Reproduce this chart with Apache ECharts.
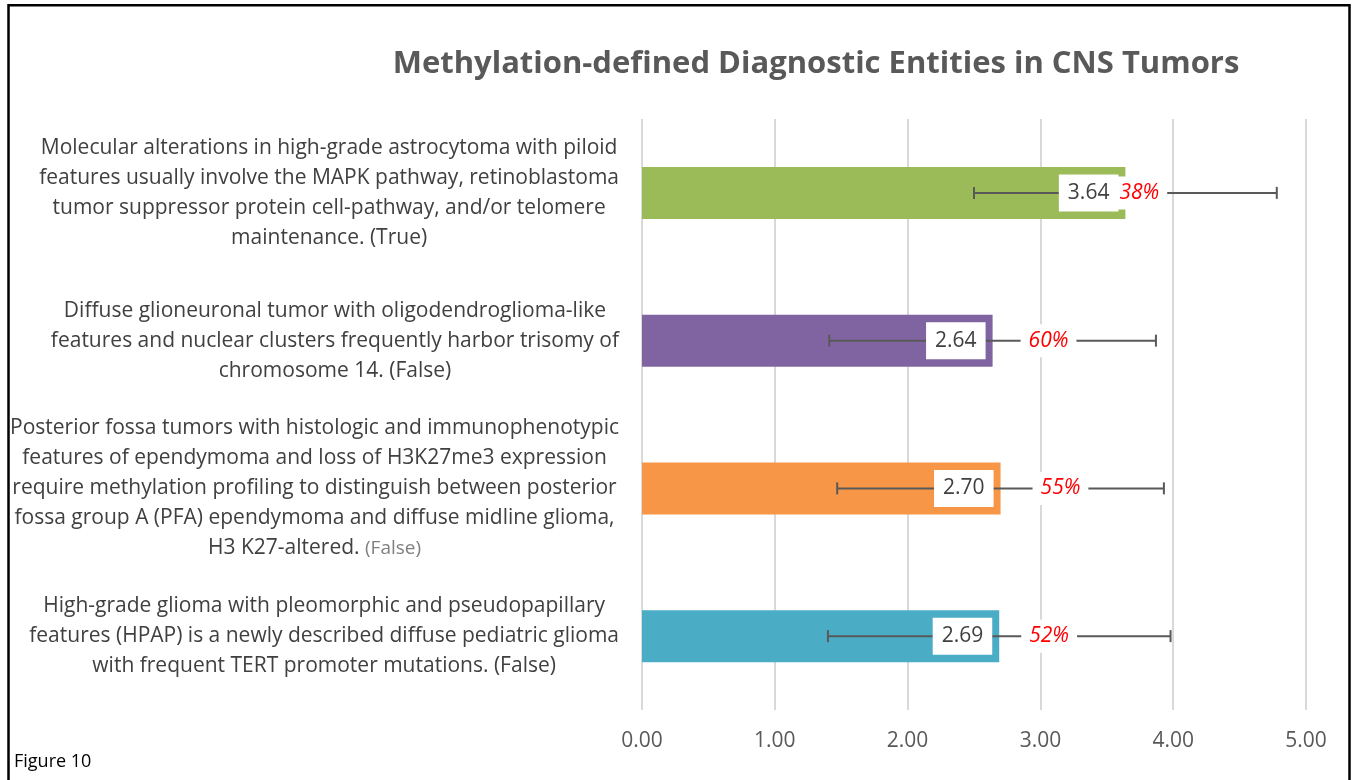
<!DOCTYPE html>
<html>
<head>
<meta charset="utf-8">
<script src="https://cdn.jsdelivr.net/npm/echarts@6/dist/echarts.min.js"></script>
<style>
  html, body { margin: 0; padding: 0; background: #fff; }
  #chart { width: 1353px; height: 780px; }
</style>
</head>
<body>
<div id="chart"></div>
<script>
// statements shown on the y axis (top to bottom)
const categories = [
  'Molecular alterations in high-grade astrocytoma with piloid\nfeatures usually involve the MAPK pathway, retinoblastoma\ntumor suppressor protein cell-pathway, and/or telomere\nmaintenance. (True)',
  'Diffuse glioneuronal tumor with oligodendroglioma-like\nfeatures and nuclear clusters frequently harbor trisomy of\nchromosome 14. (False)',
  'Posterior fossa tumors with histologic and immunophenotypic\nfeatures of ependymoma and loss of H3K27me3 expression\nrequire methylation profiling to distinguish between posterior\nfossa group A (PFA) ependymoma and diffuse midline glioma,\nH3 K27-altered. (False)',
  'High-grade glioma with pleomorphic and pseudopapillary\nfeatures (HPAP) is a newly described diffuse pediatric glioma\nwith frequent TERT promoter mutations. (False)'
];
const meanScores = [3.64, 2.64, 2.70, 2.69];
const sdScores = [1.14, 1.23, 1.23, 1.29];
const pctLabels = ['38%', '60%', '55%', '52%'];
const barColors = ['#9bbb59', '#8064a2', '#f79646', '#4bacc6'];
const xTickMin = 0;
const xTickMax = 5;
const xTickStep = 1;

// label layout tweaks (px from bar end)
const pctShift = [-14, 28, 32, 22];

const chart = echarts.init(document.getElementById('chart'));
const FONT = '"Open Sans", "Noto Sans", sans-serif';

chart.setOption({
  animation: false,
  title: {
    text: 'Methylation-defined Diagnostic Entities in CNS Tumors',
    left: 811,
    top: 44,
    textAlign: 'center',
    textStyle: { fontFamily: FONT, fontSize: 31, fontWeight: 'bold', color: '#595959' }
  },
  grid: { left: 642, right: 47, top: 119, bottom: 70 },
  xAxis: {
    type: 'value',
    min: xTickMin,
    max: xTickMax,
    interval: xTickStep,
    axisLine: { show: false },
    axisTick: { show: false },
    splitLine: { lineStyle: { color: '#d9d9d9', width: 2 } },
    axisLabel: {
      margin: 21,
      fontFamily: FONT,
      fontSize: 21,
      color: '#595959',
      formatter: v => v.toFixed(2)
    }
  },
  yAxis: {
    type: 'category',
    inverse: true,
    data: categories,
    axisLine: { show: false },
    axisTick: { show: false },
    axisLabel: {
      margin: 23,
      formatter: (val, idx) => val.split('\n').map(line => {
        if (idx === 2 && line.endsWith('(False)')) {
          return '{c|' + line.replace(' (False)', ' ') + '}{f|(False)}';
        }
        return '{c|' + line + '}';
      }).join('\n'),
      rich: {
        c: { fontFamily: FONT, fontSize: 21, lineHeight: 30, color: '#404040', align: 'center' },
        f: { fontFamily: FONT, fontSize: 19, lineHeight: 30, color: '#7f7f7f', align: 'center' }
      }
    }
  },
  series: [
    {
      type: 'bar',
      data: meanScores.map((v, i) => ({ value: v, itemStyle: { color: barColors[i] } })),
      barWidth: 52,
      silent: true
    },
    {
      type: 'custom',
      z: 5,
      silent: true,
      data: meanScores.map((v, i) => [v, i, v - sdScores[i], v + sdScores[i]]),
      encode: { x: [0, 2, 3], y: 1 },
      renderItem: (params, api) => {
        const idx = api.value(1);
        const end = api.coord([api.value(0), idx]);
        const lo = api.coord([api.value(2), idx]);
        const hi = api.coord([api.value(3), idx]);
        const y = end[1];
        const ls = { stroke: '#595959', lineWidth: 2 };
        return {
          type: 'group',
          children: [
            { type: 'line', shape: { x1: lo[0], y1: y, x2: hi[0], y2: y }, style: ls },
            { type: 'line', shape: { x1: lo[0], y1: y - 6, x2: lo[0], y2: y + 6 }, style: ls },
            { type: 'line', shape: { x1: hi[0], y1: y - 6, x2: hi[0], y2: y + 6 }, style: ls },
            {
              type: 'text',
              style: {
                text: api.value(0).toFixed(2),
                x: end[0] - 7, y: y,
                align: 'right', verticalAlign: 'middle',
                font: '21px ' + FONT,
                fill: '#404040',
                backgroundColor: '#fff',
                padding: [8, 9]
              }
            },
            {
              type: 'text',
              style: {
                text: pctLabels[idx],
                x: end[0] + pctShift[idx], y: y,
                align: 'left', verticalAlign: 'middle',
                font: 'italic 21px ' + FONT,
                fill: '#ff0000',
                backgroundColor: '#fff',
                padding: [6, 8]
              }
            }
          ]
        };
      }
    }
  ],
  graphic: [
    {
      type: 'rect',
      shape: { x: 8.5, y: 5.3, width: 1341, height: 800 },
      style: { fill: 'none', stroke: '#000', lineWidth: 2.5 },
      silent: true
    },
    {
      type: 'text',
      left: 14,
      top: 753,
      style: { text: 'Figure 10', font: '18px ' + FONT, fill: '#000' }
    }
  ]
});
</script>
</body>
</html>
